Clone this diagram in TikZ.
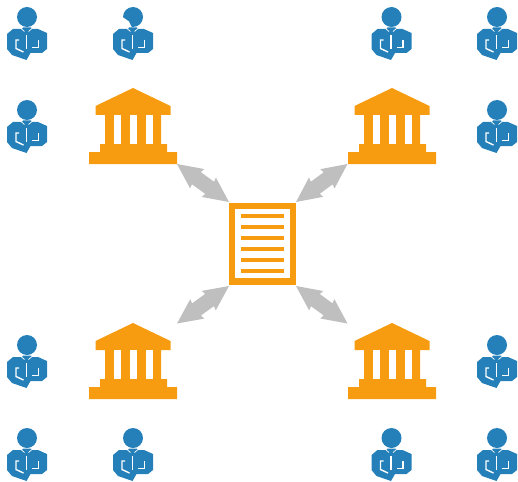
\documentclass[tikz,border=0pt]{standalone}
\usetikzlibrary{calc}
\definecolor{pblue}{HTML}{2580BA}
\definecolor{borange}{HTML}{F79C10}
\definecolor{agray}{HTML}{BFBFBF}
\tikzset{
  x=1pt,y=-1pt,
  gap/.style={draw=white,line width=1.4pt},
  bodyshape/.style={fill=pblue,draw=none},
  bigarrow/.style={fill=agray,draw=none},
  person/.pic={
    \fill[bodyshape] (-20,34) -- (-14,29) -- (-5,29) -- (-4,27.5) -- (4,27.5) -- (5,29) -- (11,29) -- (20,33)
      -- (20,49) -- (15,53) -- (3.5,53) -- (-0.5,60) -- (-15,55) -- (-20,49) -- cycle;
    \draw[gap] (-8,40) -- (-11,40) -- (-11,48.5) -- (-3.5,52);
    \draw[gap] (11.5,40) -- (11.5,47.5) -- (5,47.5);
    \draw[gap] (-0.6,35) -- (-0.6,49);
    \draw[gap,line width=.7pt] (-6,28.5) -- (-2.5,31.5);
    \draw[gap,line width=.7pt] (5,28.5) -- (1.5,31.5);
  },
  headround/.pic={\fill[pblue] (0,17) circle[radius=10];},
  headbite/.pic={
    \fill[pblue] (0,17) circle[radius=10];
    \fill[white] (-10.5,17) -- (-4,21.5) -- (-1.5,27) -- (-10.5,27) -- cycle;
  },
  bank/.pic={
    \fill[borange] (0,88) -- (37.5,106) -- (37.5,115) -- (28,115) -- (28,144) -- (34,144) -- (34,152)
      -- (44,152) -- (44,164) -- (-44,164) -- (-44,152) -- (-33,152) -- (-33,144) -- (-28,144) -- (-28,115)
      -- (-37.5,115) -- (-37.5,106) -- cycle;
    \fill[white] (-19,115) rectangle (-12,144);
    \fill[white] (-3,115) rectangle (4,144);
    \fill[white] (13,115) rectangle (20,144);
  },
  document/.pic={
    \fill[borange] (229,203) rectangle (296,285);
    \fill[white] (235,209) rectangle (290,278);
    \foreach \yy in {216,227,238,249,260,271}
      \fill[borange] (241,\yy-2) rectangle (284,\yy+2);
  }
}
\newcommand{\biarrow}[2]{%
  \fill[bigarrow] (#1)
    -- ($(#1)!25pt!(#2)!12pt!90:(#2)$) -- ($(#1)!24pt!(#2)!7.5pt!90:(#2)$)
    -- ($(#2)!24pt!(#1)!7.5pt!-90:(#1)$) -- ($(#2)!25pt!(#1)!12pt!-90:(#1)$)
    -- (#2)
    -- ($(#2)!25pt!(#1)!12pt!90:(#1)$) -- ($(#2)!24pt!(#1)!7.5pt!90:(#1)$)
    -- ($(#1)!24pt!(#2)!7.5pt!-90:(#2)$) -- ($(#1)!25pt!(#2)!12pt!-90:(#2)$)
    -- cycle;}
\begin{document}
\begin{tikzpicture}
\useasboundingbox (0,0) rectangle (518,481);
% people
\foreach \px/\py in {27/0,391.5/0,497/0,27/93,497/93,27/328,497/328,27/421,133/421,391.5/421,497/421}{
  \pic at (\px,\py) {person};
  \pic at (\px,\py) {headround};
}
\pic at (133,0) {person};
\pic at (133,0) {headbite};
% banks
\pic at (133,0) {bank};
\pic at (392,0) {bank};
\pic at (133,235) {bank};
\pic at (392,235) {bank};
% document
\pic {document};
% arrow ends
\coordinate (bankTL) at (177,164);
\coordinate (bankTR) at (347.5,164);
\coordinate (bankBL) at (177,323.5);
\coordinate (bankBR) at (347.5,323.5);
\coordinate (docTL) at (229,202);
\coordinate (docTR) at (296,202);
\coordinate (docBL) at (229,286);
\coordinate (docBR) at (296,286);
\biarrow{bankTL}{docTL}
\biarrow{bankTR}{docTR}
\biarrow{bankBL}{docBL}
\biarrow{bankBR}{docBR}
\end{tikzpicture}
\end{document}
